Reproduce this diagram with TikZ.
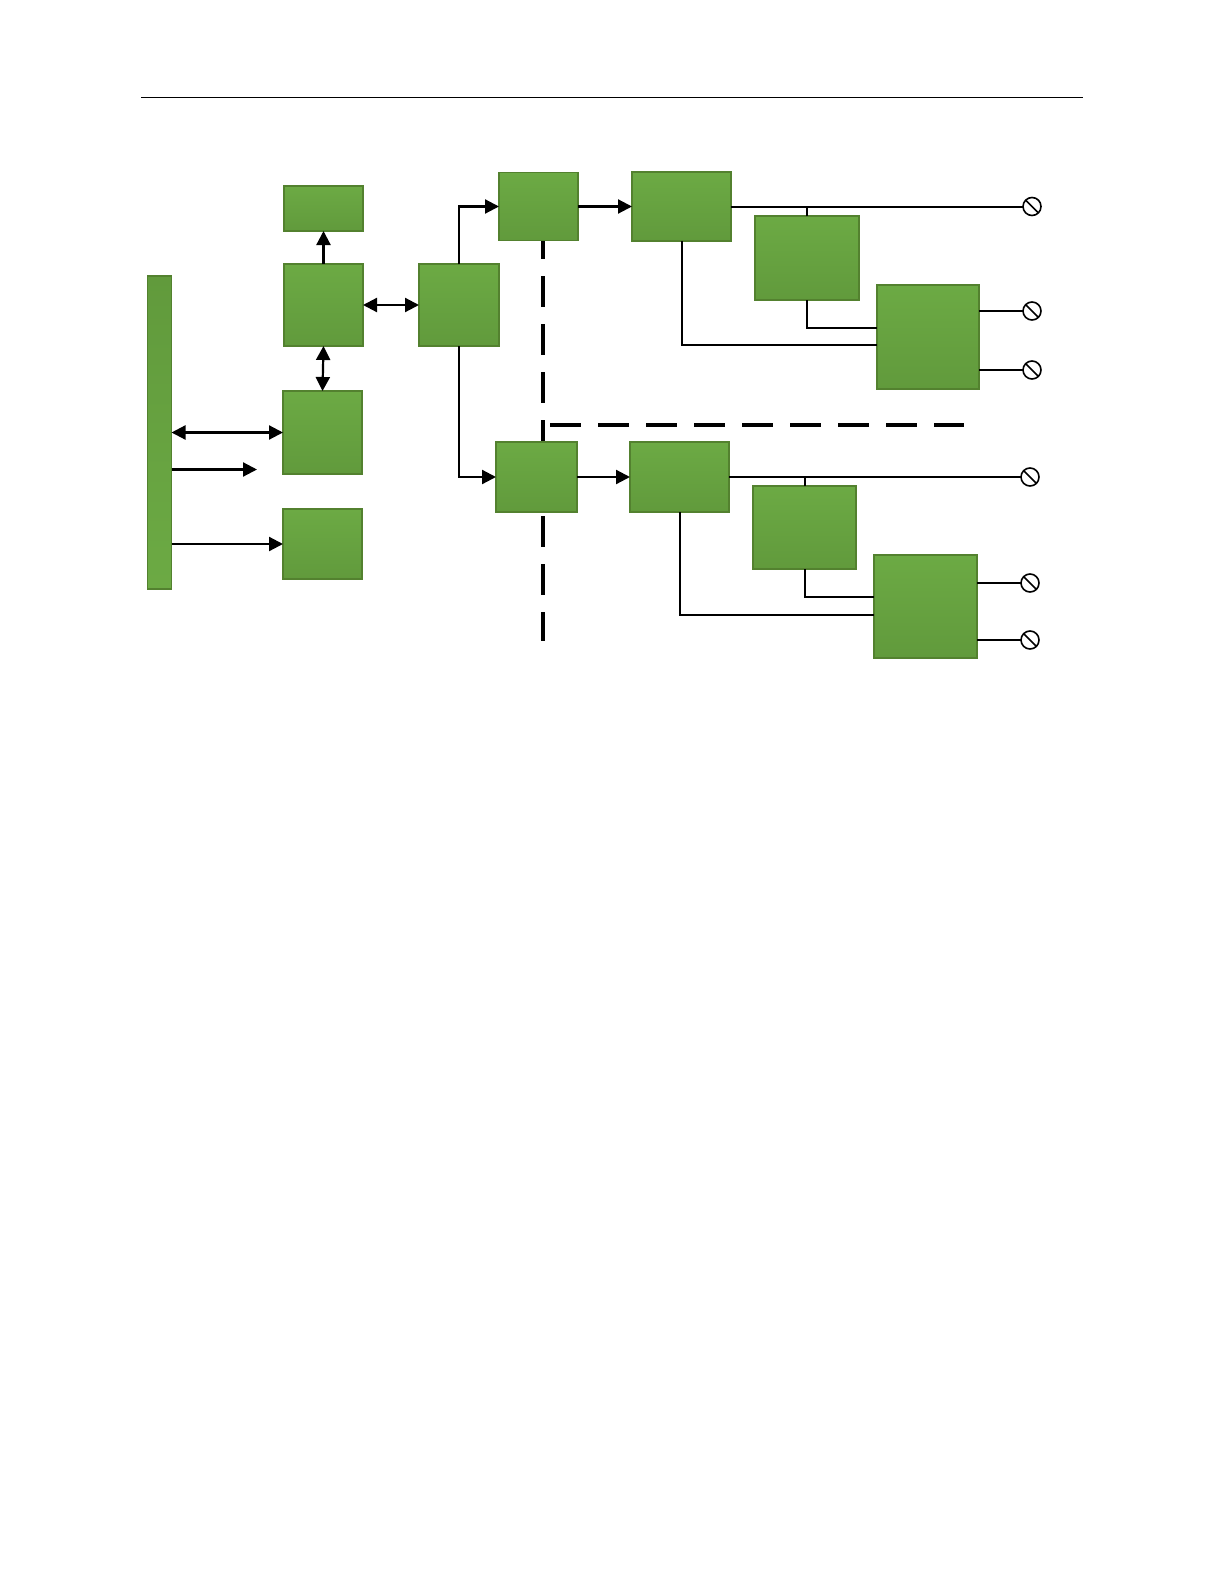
\documentclass[tikz,border=0pt]{standalone}
\usepackage{xcolor}
\usepackage{tikz}
\usetikzlibrary{arrows.meta,positioning,calc}
\definecolor{blocklight}{HTML}{6CAA44}
\definecolor{blockdark}{HTML}{619A3C}
\definecolor{blockedge}{HTML}{53812F}

\begin{document}
\begin{tikzpicture}[x=1pt,y=-1pt,
  every node/.style={inner sep=0pt,outer sep=0pt},
  block/.style={draw=blockedge,line width=1.8pt,top color=blocklight,bottom color=blockdark},
  busbar/.style={draw=blockedge,line width=1.8pt,top color=blockdark,bottom color=blocklight},
  flow/.style={-{Triangle[length=14pt,width=14pt]},line width=2.2pt},
  both/.style={{Triangle[length=14pt,width=14pt]}-{Triangle[length=14pt,width=14pt]},line width=2.2pt},
  wire/.style={line width=2pt},
  cut/.style={line width=3.8pt,dash pattern=on 31pt off 17pt,dash phase=13pt},
  term/.style={circle,draw,line width=1.6pt,minimum size=18pt,
    path picture={\draw[line width=1.6pt] (path picture bounding box.north west) -- (path picture bounding box.south east);}}
]
  \useasboundingbox (0,0) rectangle (1224,1584);
  \coordinate (rulel) at (141,98);
  \coordinate (ruler) at (1083,98);
  \draw[line width=1pt] (rulel) -- (ruler);
  \coordinate (cuttop) at (543,241);
  \coordinate (cutbot) at (543,641);
  \coordinate (cutl) at (550,425);
  \coordinate (cutr) at (964,425);
  \draw[cut] (cuttop) -- (cutbot);
  \draw[cut,dash phase=0pt] (cutl) -- (cutr);
  \node[busbar,minimum width=24,minimum height=313] (bus) at (159.5,432.5) {};
  \node[block,minimum width=79,minimum height=45] (topbox) at (323.5,208.5) {};
  \node[block,minimum width=79,minimum height=82] (ctrl) at (323.5,305) {};
  \node[block,minimum width=80,minimum height=82] (link) at (459,305) {};
  \node[block,minimum width=79,minimum height=83] (mem) at (322.5,432.5) {};
  \node[block,minimum width=79,minimum height=70] (aux) at (322.5,544) {};
  \node[block,minimum width=79,minimum height=68] (upa) at (538.5,206.5) {};
  \node[block,minimum width=99,minimum height=69] (upb) at (681.5,206.5) {};
  \node[block,minimum width=104,minimum height=84] (upc) at (807,258) {};
  \node[block,minimum width=102,minimum height=104] (upd) at (928,337) {};
  \node[block,minimum width=81,minimum height=70] (loa) at (536.5,477) {};
  \node[block,minimum width=99,minimum height=70] (lob) at (679.5,477) {};
  \node[block,minimum width=103,minimum height=83] (loc) at (804.5,527.5) {};
  \node[block,minimum width=103,minimum height=103] (lod) at (925.5,606.5) {};
  \node[term] (ut1) at (1032,206.5) {};
  \node[term] (ut2) at (1032,311) {};
  \node[term] (ut3) at (1032,370) {};
  \node[term] (lt1) at (1030,477) {};
  \node[term] (lt2) at (1030,583) {};
  \node[term] (lt3) at (1030,640) {};
  \coordinate (spare) at (257,469.5);
  \draw[flow] (ctrl.north) -- (topbox.south);
  \draw[both] (ctrl.south) -- (mem.north);
  \draw[both] (ctrl.east) -- (link.west);
  \draw[both] (bus.east) -- (mem.west);
  \draw[flow] (bus.east |- spare) -- (spare);
  \draw[flow] (bus.east |- aux.west) -- (aux.west);
  \draw[flow] (link.north) |- (upa.west);
  \draw[flow] (link.south) |- (loa.west);
  \draw[flow] (upa.east) -- (upb.west);
  \draw[flow] (loa.east) -- (lob.west);
  \draw[wire] (upb.east) -- (ut1.west);
  \draw[wire] (upc.north) -- (upc.north |- ut1.west);
  \draw[wire] (upc.south) |- ([yshift=9pt]upd.west);
  \draw[wire] (upb.south) |- ([yshift=-8pt]upd.west);
  \draw[wire] ([yshift=26pt]upd.east) -- (ut2.west);
  \draw[wire] ([yshift=-33pt]upd.east) -- (ut3.west);
  \draw[wire] (lob.east) -- (lt1.west);
  \draw[wire] (loc.north) -- (loc.north |- lt1.west);
  \draw[wire] (loc.south) |- ([yshift=9.5pt]lod.west);
  \draw[wire] (lob.south) |- ([yshift=-8.5pt]lod.west);
  \draw[wire] ([yshift=23.5pt]lod.east) -- (lt2.west);
  \draw[wire] ([yshift=-33.5pt]lod.east) -- (lt3.west);
\end{tikzpicture}
\end{document}
